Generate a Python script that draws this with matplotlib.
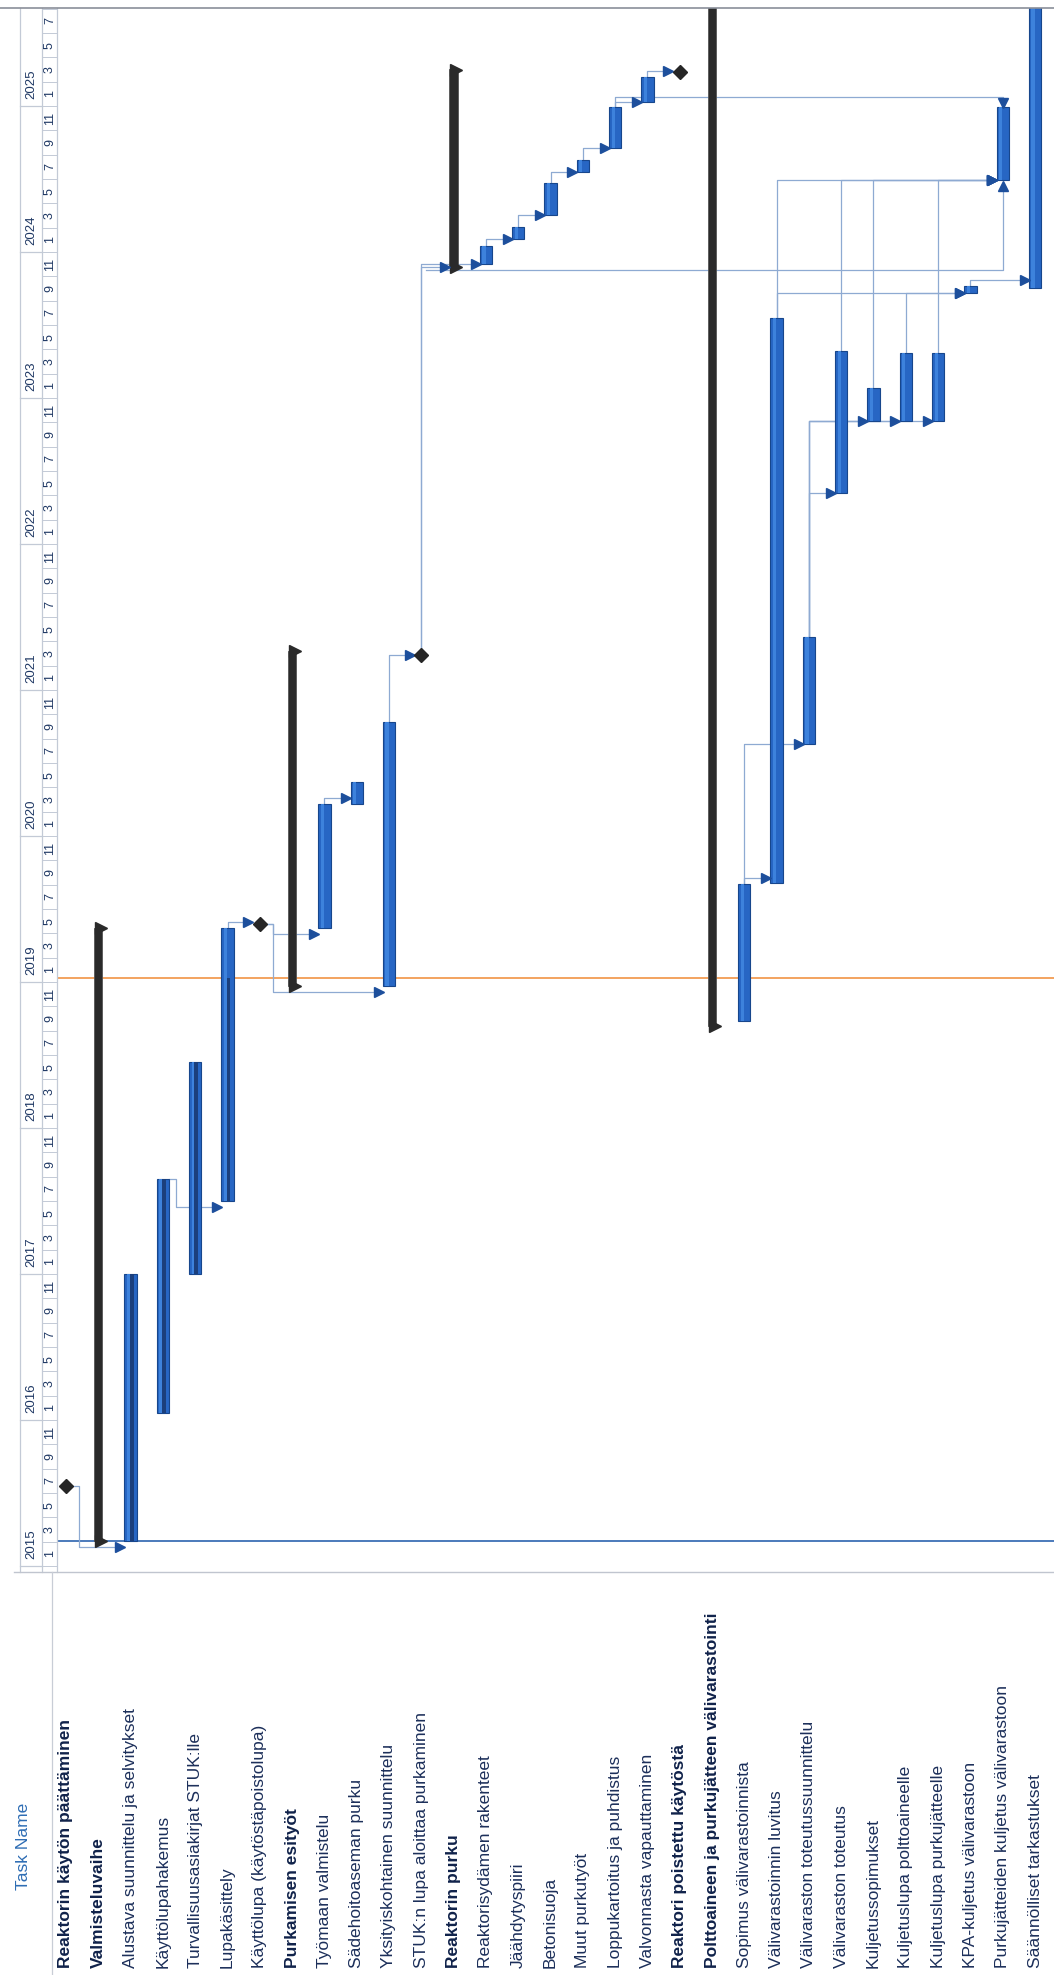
import numpy as np
import matplotlib.pyplot as plt
from matplotlib.lines import Line2D
from matplotlib.transforms import blended_transform_factory

# --- data: MS Project schedule (rows as in the task table) ---
task_names = [
    "Reaktorin käytön päättäminen", "Valmisteluvaihe",
    "Alustava suunnittelu ja selvitykset", "Käyttölupahakemus",
    "Turvallisuusasiakirjat STUK:lle", "Lupakäsittely",
    "Käyttölupa (käytöstäpoistolupa)", "Purkamisen esityöt",
    "Työmaan valmistelu", "Sädehoitoaseman purku",
    "Yksityiskohtainen suunnittelu", "STUK:n lupa aloittaa purkaminen",
    "Reaktorin purku", "Reaktorisydämen rakenteet", "Jäähdytyspiiri",
    "Betonisuoja", "Muut purkutyöt", "Loppukartoitus ja puhdistus",
    "Valvonnasta vapauttaminen", "Reaktori poistettu käytöstä",
    "Polttoaineen ja purkujätteen välivarastointi",
    "Sopimus välivarastoinnista", "Välivarastoinnin luvitus",
    "Välivaraston toteutussuunnittelu", "Välivaraston toteutus",
    "Kuljetussopimukset", "Kuljetuslupa polttoaineelle",
    "Kuljetuslupa purkujätteelle", "KPA-kuljetus välivarastoon",
    "Purkujätteiden kuljetus välivarastoon", "Säännölliset tarkastukset",
]
task_kind = ["milestone", "summary", "task", "task", "task", "task",
             "milestone", "summary", "task", "task", "task", "milestone",
             "summary", "task", "task", "task", "task", "task", "task",
             "milestone", "summary", "task", "task", "task", "task",
             "task", "task", "task", "task", "task", "task"]
# start / finish as decimal years
task_start = [2015.55, 2015.17, 2015.17, 2016.05, 2017.00, 2017.50,
              2019.40, 2018.97, 2019.37, 2020.22, 2018.97, 2021.24,
              2023.90, 2023.92, 2024.09, 2024.25, 2024.55, 2024.71,
              2025.03, 2025.23, 2018.70, 2018.73, 2019.68, 2020.63,
              2022.35, 2022.84, 2022.84, 2022.84, 2023.72, 2024.49,
              2023.75]
task_end = [2015.55, 2019.37, 2017.00, 2017.65, 2018.45, 2019.37,
            2019.40, 2021.27, 2020.22, 2020.37, 2020.78, 2021.24,
            2025.25, 2024.04, 2024.17, 2024.47, 2024.63, 2024.99,
            2025.20, 2025.23, 2026.50, 2019.67, 2023.55, 2021.36,
            2023.32, 2023.07, 2023.31, 2023.31, 2023.77, 2024.99,
            2026.50]
# progress drawn up to this date (None = no progress)
task_done = [None, None, 2017.00, 2017.65, 2018.45, 2019.03, None, None,
             None, None, None, None, None, None, None, None, None, None,
             None, None, None, None, None, None, None, None, None, None,
             None, None, None]
bold_rows = [0, 1, 7, 12, 19, 20]

# dependencies (predecessor, successor, type)
links = [(0, 2, "FS"), (3, 5, "FS"), (5, 6, "FS"), (6, 8, "FS"),
         (6, 10, "FS"), (8, 9, "FS"), (10, 11, "FS"), (11, 12, "FS"),
         (11, 13, "FS"), (13, 14, "FS"), (14, 15, "FS"), (15, 16, "FS"),
         (16, 17, "FS"), (17, 18, "FS"), (18, 19, "FS"), (21, 22, "FS"),
         (21, 23, "FS"), (23, 24, "FS"), (23, 25, "FS"), (23, 26, "FS"),
         (23, 27, "FS"), (22, 28, "FS"), (26, 28, "FS"), (28, 30, "FS"),
         (22, 29, "FS"), (24, 29, "FS"), (25, 29, "FS"), (27, 29, "FS"),
         (11, 29, "SS"), (17, 29, "FF")]

status_date = 2019.03
project_start = 2015.17
years = list(range(2015, 2026))
month_labels = [1, 3, 5, 7, 9, 11]

# --- layout (pixels) ---
W, H = 1054, 1975
gx0, gx1, gy0, gy1 = 57, 1054, 8, 1572
row0_px, row_step = 66, 32.3
t_ref, y_ref, px_per_year = 2021.0, 690, 146.0

navy = "#1f3864"
bar_blue = "#2766c4"
bar_edge = "#17468c"
link_col = "#8eaad2"
regular_family = ["Noto Sans Condensed", "Noto Sans SemiCondensed", "Liberation Sans"]
bold_family = ["Noto Sans Condensed Bold", "Noto Sans Condensed",
               "Noto Sans SemiCondensed Bold", "Liberation Sans"]

fig = plt.figure(figsize=(W / 100, H / 100), dpi=100)
fig.patch.set_facecolor("white")


def fx(px):
    return px / W


def fy(py):
    return 1 - py / H


ax = fig.add_axes([fx(gx0), fy(gy1), (gx1 - gx0) / W, (gy1 - gy0) / H])
ax.set_xlim((gx0 - row0_px) / row_step, (gx1 - row0_px) / row_step)
ax.set_ylim(t_ref - (gy1 - y_ref) / px_per_year, t_ref + (y_ref - gy0) / px_per_year)
ax.axis("off")

n = len(task_names)
rows = np.arange(n)

# project start line and status date
ax.axhline(project_start, color="#3d6fb5", lw=1.3, zorder=1)
ax.axhline(status_date, color="#f3a35f", lw=1.4, zorder=1)

# link lines
hw = {"task": 0.19, "summary": 0.13, "milestone": 0.22}
for p, s, kind in links:
    ps, pe = task_start[p], task_end[p]
    ss, se = task_start[s], task_end[s]
    ax_s = s - hw[task_kind[s]] - 0.13
    if kind == "FS":
        if ss >= pe - 0.02:
            tl = max(ss, pe + 0.04)
            xs = [p, p, ax_s]
            ys = [pe, tl, tl]
        else:
            tl = ss - 0.04
            xs = [p + 0.2, p + 0.4, p + 0.4, ax_s]
            ys = [pe, pe, tl, tl]
        mk, mx, my = ">", ax_s, tl
    elif kind == "SS":
        tl = task_start[12] - 0.02
        xs = [p + 0.15, s, s]
        ys = [tl, tl, ss - 0.04]
        mk, mx, my = "^", s, ss - 0.04
    else:
        top = max(pe, se) + 0.07
        xs = [p, p, s, s]
        ys = [pe, top, top, se + 0.03]
        mk, mx, my = "v", s, se + 0.03
    ax.plot(xs, ys, color=link_col, lw=0.9, zorder=2, solid_joinstyle="round")
    ax.plot([mx], [my], marker=mk, ms=6.5, color="#1d4f9c", zorder=5)

# bars
for i in rows:
    k = task_kind[i]
    dur = task_end[i] - task_start[i]
    if k == "task":
        ax.bar(i, dur, bottom=task_start[i], width=0.38,
               color=bar_blue, edgecolor=bar_edge, lw=0.8, zorder=3)
        ax.bar(i - 0.06, dur, bottom=task_start[i], width=0.1,
               color="#3d82dc", lw=0, zorder=3)
        if task_done[i] is not None:
            ax.bar(i + 0.03, task_done[i] - task_start[i], bottom=task_start[i], width=0.12,
                   color="#1b3f7c", lw=0, zorder=4)
    elif k == "summary":
        ax.bar(i, dur, bottom=task_start[i], width=0.26,
               color="#2a2a2a", edgecolor="#555555", lw=0.6, zorder=3)
        ax.plot([i + 0.08, i + 0.08], [task_start[i], task_end[i]], ls="none",
                marker=">", ms=8, color="#2a2a2a", zorder=4)
    else:
        ax.plot([i], [task_start[i]], marker="D", ms=7, color="#262626", zorder=5)

# --- timescale column (left strip) ---
ts = fig.add_axes([fx(14), fy(gy1), (gx0 - 14) / W, (gy1 - gy0) / H])
ts.set_xlim(14, gx0)
ts.set_ylim(ax.get_ylim())
ts.axis("off")
grid_col = "#c3cad6"
for xv in [20, 42, 57]:
    ts.plot([xv, xv], ts.get_ylim(), color=grid_col, lw=0.9, clip_on=False)
for y in years:
    ts.plot([20, 42], [y, y], color=grid_col, lw=0.9)
    if y + 0.05 < ts.get_ylim()[1]:
        ts.text(31, y + 0.05, str(y), rotation=90, ha="center", va="bottom",
                fontsize=9.5, color=navy, family=regular_family)
    for m in month_labels:
        t0 = y + (m - 1) / 12
        ts.plot([42, 57], [t0, t0], color=grid_col, lw=0.7)
        if t0 + 1 / 12 < ts.get_ylim()[1]:
            ts.text(50, t0 + 1 / 12, str(m), rotation=90, ha="center", va="center",
                    fontsize=9, color=navy, family=regular_family)

# frame lines
fig.add_artist(Line2D([0, 1], [fy(gy0), fy(gy0)], color="#8a8f99", lw=1.2))
fig.add_artist(Line2D([fx(14), 1], [fy(gy1), fy(gy1)], color="#c0c5cf", lw=1.0))
fig.add_artist(Line2D([fx(52), fx(52)], [fy(gy1), 0], color="#c8cdd6", lw=0.9))

# --- task table (rotated labels under the chart) ---
tr = blended_transform_factory(ax.transData, fig.transFigure)
for i in rows:
    is_bold = i in bold_rows
    ax.text(i, fy(1968), task_names[i], rotation=90, ha="center", va="bottom",
            transform=tr, clip_on=False, fontsize=12.5,
            family=bold_family if is_bold else regular_family,
            color="#10224a" if is_bold else "#1c2f5a",
            fontweight="bold" if is_bold else "normal")
fig.text(fx(24), fy(1890), "Task Name", rotation=90, ha="center", va="bottom",
         fontsize=12.5, color="#2e6db4", family=regular_family)

fig.savefig("out.png", dpi=100, facecolor="white")
